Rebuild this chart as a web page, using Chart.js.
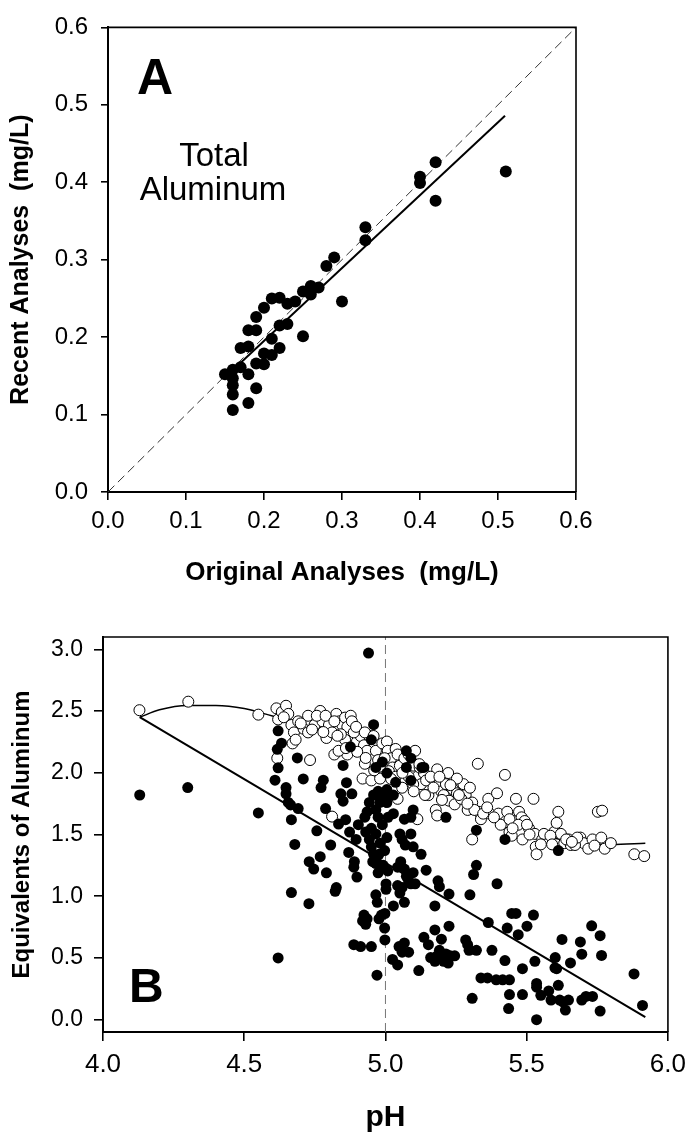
<!DOCTYPE html>
<html>
<head>
<meta charset="utf-8">
<title>Aluminum analyses</title>
<script src="https://cdn.jsdelivr.net/npm/chart.js@4.4.0/dist/chart.umd.min.js"></script>
<style>
    body { margin: 0; background: #fff; }
    #wrap { position: relative; width: 694px; height: 1138px; }
    #chartA { position: absolute; left: 0; top: 0; }
    #chartB { position: absolute; left: 0; top: 600px; }
</style>
</head>
<body>
<div id="wrap">
    <canvas id="chartA" width="694" height="600"></canvas>
    <canvas id="chartB" width="694" height="538"></canvas>
</div>
<script>
// ---- Panel A data: original vs recent total aluminum (mg/L) ----
const ticksA = [0.0, 0.1, 0.2, 0.3, 0.4, 0.5, 0.6];
const originalA = [0.15, 0.16, 0.16, 0.16, 0.16, 0.16, 0.17, 0.18, 0.18, 0.17, 0.18, 0.18, 0.19, 0.19,
    0.19, 0.19, 0.20, 0.20, 0.20, 0.21, 0.21, 0.21, 0.22, 0.22, 0.22, 0.23, 0.23, 0.24, 0.25, 0.25,
    0.26, 0.26, 0.27, 0.28, 0.29, 0.30, 0.33, 0.33, 0.40, 0.40, 0.42, 0.42, 0.51];
const recentA = [0.152, 0.158, 0.147, 0.138, 0.126, 0.106, 0.161, 0.152, 0.115, 0.186, 0.188, 0.209, 0.209, 0.226,
    0.166, 0.134, 0.238, 0.165, 0.179, 0.250, 0.198, 0.177, 0.251, 0.215, 0.186, 0.243, 0.217, 0.246, 0.259, 0.201,
    0.266, 0.255, 0.264, 0.292, 0.303, 0.246, 0.342, 0.325, 0.407, 0.399, 0.426, 0.376, 0.414];
const fitAX = [0.168, 0.509];
const fitAY = [0.165, 0.486];
const equalityX = [0.0, 0.6];
const equalityY = [0.0, 0.6];

// ---- Panel B data: equivalents of aluminum vs pH ----
const ticksPH = [4.0, 4.5, 5.0, 5.5, 6.0];
const ticksEq = [0.0, 0.5, 1.0, 1.5, 2.0, 2.5, 3.0];
const filledPH = [4.13, 4.30, 4.94, 4.55, 4.62, 4.97, 5.535, 5.91, 5.88, 5.76, 5.76, 5.73, 5.765, 5.69, 5.695, 5.625, 5.655,
    4.62, 4.617, 4.632, 4.62, 4.609, 4.648, 4.648, 4.656, 4.664, 4.667, 4.679, 4.667, 4.688, 4.691, 4.709, 4.729, 4.73, 4.746, 4.757,
    4.769, 4.78, 4.772, 4.788, 4.791, 4.806, 4.822, 4.826, 4.834, 4.842, 4.85, 4.85, 4.862, 4.859, 4.873, 4.87, 4.876, 4.881, 4.89, 4.899, 4.888, 4.896, 4.904,
    4.888, 4.912, 4.95, 4.919, 4.924, 4.935, 4.93, 4.966, 4.971, 4.977, 4.986, 4.997, 4.998, 4.998, 5.002, 5.002, 5.008,
    4.95, 4.958, 4.966, 4.974, 4.943, 4.93, 4.927, 4.935, 4.943, 4.958, 4.974, 4.989, 4.981, 4.966, 4.974, 4.989, 4.95, 4.966, 4.981, 4.997, 4.977, 4.955, 4.992,
    4.958, 4.95, 4.966, 4.989, 5.005, 5.036, 5.074, 5.09, 5.09, 5.074, 5.129,
    5.005, 5.012, 5.028, 5.009, 5.005, 5.028, 5.005,
    5.028, 5.025, 5.043, 5.048, 5.059, 5.067, 5.082, 5.118, 5.043, 5.051, 5.059, 5.067, 5.043, 5.054, 5.067, 5.074, 5.082, 5.09, 5.105, 5.098,
    5.051, 5.059, 5.067, 5.09, 5.098, 5.09, 5.098, 5.126, 5.144, 5.07,
    5.136, 5.152, 5.16, 5.175, 5.175, 5.183, 5.191, 5.198, 5.206, 5.214, 5.222, 5.229, 5.245, 5.225, 5.175, 5.186, 5.191, 5.225, 5.214, 5.136,
    5.284, 5.291, 5.296, 5.322, 5.299, 5.312, 5.322, 5.322, 5.307, 5.338, 5.361, 5.392, 5.415, 5.439, 5.377, 5.364, 5.395, 5.423, 5.431, 5.439,
    5.436, 5.447, 5.462, 5.47, 5.485, 5.485, 5.501, 5.423, 5.524, 5.529, 5.535,
    5.535, 5.55, 5.578, 5.586, 5.601, 5.606, 5.612, 5.617, 5.628, 5.637, 5.648, 5.612, 5.695, 5.71, 5.733, 5.60];
const filledEq = [1.82, 1.88, 2.97, 1.675, 0.50, 0.36, 0.00, 0.115, 0.37, 0.68, 0.07, 0.76, 0.52, 0.63, 0.53, 0.65, 0.46,
    2.34, 2.19, 2.24, 2.04, 1.94, 1.88, 1.83, 1.76, 1.74, 1.62, 1.42, 1.03, 2.12, 1.71, 1.95, 0.94, 1.28, 1.22, 1.53,
    1.32, 1.94, 1.88, 1.71, 1.19, 1.415, 1.04, 1.07, 1.585, 1.83, 1.77, 2.06, 1.92, 1.62, 1.52, 1.355, 2.21, 1.83, 1.28, 1.155, 1.235, 1.46, 1.58,
    0.607, 0.592, 0.592, 0.80, 0.847, 0.817, 0.772, 1.011, 0.951, 0.817, 0.847, 0.742, 0.646, 0.86, 1.10, 1.056, 1.205,
    1.40, 1.34, 1.265, 1.19, 1.46, 1.52, 1.64, 1.684, 1.76, 1.82, 1.85, 1.82, 1.76, 1.70, 1.64, 1.58, 1.55, 1.505, 1.43, 1.37, 1.34, 1.28, 1.25,
    2.39, 2.267, 2.043, 2.088, 1.998, 1.923, 2.178, 2.118, 1.938, 2.043, 2.043,
    1.864, 1.819, 1.819, 1.639, 1.759, 1.669, 1.475,
    0.921, 0.488, 0.443, 0.592, 0.547, 0.622, 0.547, 0.398, 1.086, 1.026, 1.071, 0.951, 1.235, 1.28, 1.22, 1.161, 1.116, 1.101, 1.101, 1.191,
    1.505, 1.46, 1.624, 1.639, 1.699, 1.505, 1.40, 1.34, 1.211, 1.415,
    0.667, 0.607, 0.503, 0.727, 0.473, 0.517, 0.562, 0.652, 0.473, 0.532, 0.458, 0.517, 0.517, 0.757, 0.921, 1.125, 1.077, 1.017, 1.639, 2.043,
    0.646, 0.607, 0.562, 0.562, 1.011, 1.176, 1.25, 1.535, 0.173, 0.338, 0.338, 0.323, 0.323, 0.323, 0.562, 0.787, 1.101, 0.479, 0.742, 0.203,
    0.09, 0.861, 0.861, 0.688, 0.413, 0.203, 0.757, 1.46, 0.847, 0.473, 0.293,
    0.263, 0.197, 0.233, 0.159, 0.503, 0.413, 0.278, 0.159, 0.144, 0.078, 0.159, 1.37, 0.159, 0.188, 0.188, 0.42];
const openPH = [4.129, 4.302, 4.55, 4.614, 4.62, 4.633, 4.648, 4.656, 4.667, 4.676, 4.671, 4.682, 4.691, 4.726, 4.733, 4.617,
    4.71, 4.749, 4.769, 4.777, 4.791, 4.80, 4.811, 4.826, 4.837, 4.847, 4.857, 4.865, 4.877, 4.881, 4.857, 4.865, 4.819, 4.834,
    4.899, 4.912, 4.924, 4.935, 4.943, 4.927, 4.919, 4.95, 4.966, 4.974, 4.981, 4.989, 5.005, 5.008, 5.02, 5.025, 5.036, 5.043,
    5.051, 5.059, 5.043, 5.067, 5.082, 5.098, 5.105, 5.113, 5.126, 5.136, 5.144, 5.152, 5.167, 5.183, 5.191, 5.198, 5.206, 5.214,
    5.222, 5.225, 5.178, 5.183, 5.24, 5.245, 5.253, 5.276, 5.284, 5.291, 5.299, 5.307, 5.307, 5.327, 5.33, 5.338, 5.364, 5.369,
    5.395, 5.40, 5.408, 5.423, 5.431, 5.439, 5.447, 5.454, 5.462, 5.473, 5.482, 5.485, 5.493, 5.508, 5.524, 5.529, 5.532, 5.535,
    5.555, 5.578, 5.597, 5.606, 5.612, 5.621, 5.633, 5.648, 5.656, 5.69, 5.702, 5.718, 5.733, 5.752, 5.767, 5.764, 5.776, 5.798,
    5.881, 5.916, 4.811, 5.113, 5.14,
    4.726, 4.757, 4.788, 4.819, 4.842, 4.888, 4.896, 4.927, 4.958, 4.997, 5.012, 5.036, 5.082, 5.098, 5.121, 5.16, 5.191, 5.253,
    5.268, 5.315, 5.346, 5.384, 5.439, 5.47, 5.501, 5.561, 5.584, 5.64, 5.671, 5.679,
    4.64, 4.70, 4.74, 4.78, 4.83, 4.86, 4.90, 4.93, 4.96, 4.98, 5.02, 5.06, 5.10, 5.12, 5.17, 5.20, 5.23, 5.26, 5.29, 5.36,
    5.45, 5.51, 5.55, 5.59, 5.66, 5.74];
const openEq = [2.507, 2.576, 2.471, 2.522, 2.432, 2.492, 2.543, 2.477, 2.387, 2.327, 2.238, 2.268, 2.417, 2.462, 2.103, 2.118,
    2.357, 2.387, 2.501, 2.417, 2.282, 2.387, 2.327, 2.477, 2.417, 2.387, 2.447, 2.372, 2.462, 2.417, 2.268, 2.148, 2.148, 2.178,
    2.253, 2.298, 2.223, 2.178, 2.298, 2.073, 1.953, 1.938, 2.178, 2.103, 1.953, 2.238, 2.253, 2.178, 2.118, 2.043, 2.193, 2.148,
    2.058, 1.879, 1.789, 2.118, 2.148, 2.058, 2.178, 1.968, 1.908, 1.998, 1.938, 1.819, 1.953, 2.028, 1.908, 1.849, 1.819, 1.908,
    1.998, 1.774, 1.699, 1.654, 1.864, 1.744, 1.834, 1.908, 1.819, 1.699, 1.879, 1.759, 1.46, 2.073, 1.684, 1.624, 1.789, 1.669,
    1.834, 1.669, 1.579, 1.983, 1.684, 1.52, 1.49, 1.609, 1.789, 1.684, 1.639, 1.46, 1.609, 1.55, 1.789, 1.505, 1.40, 1.34,
    1.46, 1.46, 1.52, 1.594, 1.684, 1.505, 1.43, 1.46, 1.415, 1.475, 1.43, 1.385, 1.46, 1.684, 1.693, 1.475, 1.385, 1.43,
    1.34, 1.325, 1.645, 1.624, 1.82,
    2.327, 2.462, 2.462, 2.417, 2.312, 2.327, 2.372, 2.327, 2.298, 2.118, 2.013, 1.968, 1.968, 1.908, 2.043, 1.968, 1.968, 1.953,
    1.789, 1.699, 1.669, 1.639, 1.624, 1.579, 1.579, 1.505, 1.49, 1.46, 1.415, 1.475,
    2.45, 2.40, 2.35, 2.33, 2.30, 2.20, 2.17, 2.12, 2.02, 2.05, 1.95, 2.00, 1.85, 2.07, 1.88, 1.78, 1.90, 1.82, 1.75, 1.72,
    1.55, 1.50, 1.42, 1.42, 1.44, 1.41];
const lineBX = [4.13, 5.92];
const lineBY = [2.45, 0.02];
const curveBX = [4.13, 4.2, 4.3, 4.4, 4.5, 4.6, 4.7, 4.8, 4.9, 5.0, 5.1, 5.2, 5.3, 5.4, 5.5, 5.6, 5.7, 5.8, 5.92];
const curveBY = [2.45, 2.51, 2.545, 2.545, 2.52, 2.46, 2.40, 2.31, 2.21, 2.10, 1.98, 1.85, 1.72, 1.62, 1.54, 1.47, 1.43, 1.42, 1.43];
const refPH = [5.0, 5.0];
const refEq = [-0.1, 3.1];

const FONT = 'Arial, "Liberation Sans", Helvetica, sans-serif';
Chart.defaults.color = '#000';
Chart.defaults.font.family = FONT;

function toPoints(xs, ys) {
    return xs.map((x, i) => ({ x: x, y: ys[i] }));
}

// Draw the top/right frame and the panel annotations
function framePlugin(labels) {
    return {
        id: 'frame',
        afterDatasetsDraw(chart) {
            const { ctx, chartArea } = chart;
            ctx.save();
            ctx.strokeStyle = '#000';
            ctx.lineWidth = 1.6;
            ctx.beginPath();
            ctx.moveTo(chartArea.left, chartArea.top);
            ctx.lineTo(chartArea.right, chartArea.top);
            ctx.lineTo(chartArea.right, chartArea.bottom);
            ctx.stroke();
            ctx.fillStyle = '#000';
            ctx.textBaseline = 'alphabetic';
            labels.forEach(l => {
                ctx.font = l.font;
                ctx.textAlign = l.align;
                ctx.fillText(l.text, chartArea.left + l.dx, chartArea.top + l.dy);
            });
            ctx.restore();
        }
    };
}

function axisOptions(ticks, min, max, opts) {
    return {
        type: 'linear',
        min: min,
        max: max,
        afterBuildTicks: axis => { axis.ticks = ticks.map(v => ({ value: v })); },
        afterFit: axis => {
            if (opts.width) axis.width = opts.width;
            if (opts.height) axis.height = opts.height;
        },
        border: { display: true, color: '#000', width: 2 },
        grid: { drawOnChartArea: false, drawTicks: true, tickLength: opts.tickLength, color: '#000', lineWidth: 1.6 },
        ticks: {
            padding: opts.padding,
            font: { size: opts.tickSize },
            callback: v => v.toFixed(1)
        },
        title: {
            display: true,
            text: opts.title,
            font: { size: opts.titleSize, weight: 'bold' },
            padding: opts.titlePadding
        }
    };
}

function initializePanelA() {
    const ctx = document.getElementById('chartA').getContext('2d');
    window.chartA = new Chart(ctx, {
        type: 'scatter',
        data: {
            datasets: [
                {
                    data: toPoints(originalA, recentA),
                    backgroundColor: '#000',
                    borderWidth: 0,
                    pointRadius: 6,
                    order: 1
                },
                {
                    data: toPoints(fitAX, fitAY),
                    showLine: true,
                    borderColor: '#000',
                    borderWidth: 2,
                    pointRadius: 0,
                    order: 2
                },
                {
                    data: toPoints(equalityX, equalityY),
                    showLine: true,
                    borderColor: '#333',
                    borderWidth: 1,
                    borderDash: [9, 5],
                    pointRadius: 0,
                    order: 3
                }
            ]
        },
        options: {
            responsive: false,
            animation: false,
            layout: { padding: { left: 0, top: 26, right: 118, bottom: 0 } },
            plugins: { legend: { display: false }, tooltip: { enabled: false } },
            scales: {
                x: axisOptions(ticksA, 0, 0.6, {
                    height: 108, tickLength: 8, padding: 7, tickSize: 24,
                    title: 'Original Analyses  (mg/L)', titleSize: 26, titlePadding: { top: 0, bottom: 12 }
                }),
                y: axisOptions(ticksA, 0, 0.6, {
                    width: 108, tickLength: 7, padding: 13, tickSize: 24,
                    title: 'Recent Analyses  (mg/L)', titleSize: 25, titlePadding: { top: 6, bottom: 0 }
                })
            }
        },
        plugins: [framePlugin([
            { text: 'A', font: 'bold 50px ' + FONT, align: 'left', dx: 29, dy: 67 },
            { text: 'Total', font: '33px ' + FONT, align: 'center', dx: 106, dy: 139 },
            { text: 'Aluminum', font: '33px ' + FONT, align: 'center', dx: 105, dy: 173 }
        ])]
    });
}

function initializePanelB() {
    const ctx = document.getElementById('chartB').getContext('2d');
    window.chartB = new Chart(ctx, {
        type: 'scatter',
        data: {
            datasets: [
                {
                    data: toPoints(filledPH, filledEq),
                    backgroundColor: '#000',
                    borderColor: '#000',
                    borderWidth: 0,
                    pointRadius: 5.5,
                    order: 1
                },
                {
                    data: toPoints(openPH, openEq),
                    backgroundColor: '#fff',
                    borderColor: '#000',
                    borderWidth: 1,
                    pointRadius: 5.5,
                    order: 2
                },
                {
                    data: toPoints(lineBX, lineBY),
                    showLine: true,
                    borderColor: '#000',
                    borderWidth: 2,
                    pointRadius: 0,
                    order: 3
                },
                {
                    data: toPoints(curveBX, curveBY),
                    showLine: true,
                    borderColor: '#000',
                    borderWidth: 1.5,
                    cubicInterpolationMode: 'monotone',
                    pointRadius: 0,
                    order: 4
                },
                {
                    data: toPoints(refPH, refEq),
                    showLine: true,
                    borderColor: '#777',
                    borderWidth: 1,
                    borderDash: [9, 5],
                    pointRadius: 0,
                    order: 5
                }
            ]
        },
        options: {
            responsive: false,
            animation: false,
            layout: { padding: { left: 0, top: 37, right: 23, bottom: 0 } },
            plugins: { legend: { display: false }, tooltip: { enabled: false } },
            scales: {
                x: axisOptions(ticksPH, 4.0, 6.0, {
                    height: 106, tickLength: 9, padding: 8, tickSize: 26,
                    title: 'pH', titleSize: 30, titlePadding: { top: 0, bottom: 2 }
                }),
                y: axisOptions(ticksEq, -0.1, 3.1, {
                    width: 103, tickLength: 9, padding: 11, tickSize: 23,
                    title: 'Equivalents of Aluminum', titleSize: 24, titlePadding: { top: 8, bottom: 0 }
                })
            }
        },
        plugins: [framePlugin([
            { text: 'B', font: 'bold 48px ' + FONT, align: 'left', dx: 26, dy: 365 }
        ])]
    });
}

initializePanelA();
initializePanelB();
</script>
</body>
</html>
